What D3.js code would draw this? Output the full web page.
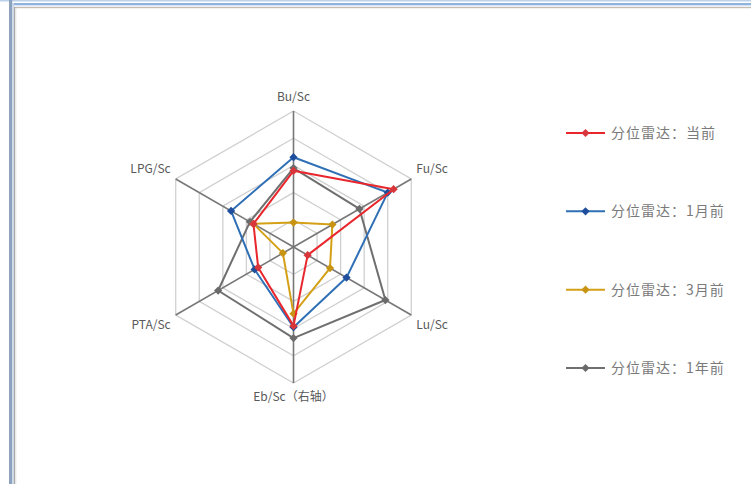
<!DOCTYPE html>
<html>
<head>
<meta charset="utf-8">
<script src="https://cdn.jsdelivr.net/npm/d3@7"></script>
<style>
  html, body { margin: 0; padding: 0; background: #fff; }
  svg { display: block; }
</style>
</head>
<body>
<svg id="chart" width="751" height="484"></svg>
<script>
const axes = ["Bu/Sc", "Fu/Sc", "Lu/Sc", "Eb/Sc（右轴）", "PTA/Sc", "LPG/Sc"];
const seriesNames = ["分位雷达：当前", "分位雷达：1月前", "分位雷达：3月前", "分位雷达：1年前"];
const seriesColors = ["#e8262b", "#2e6fb5", "#d4a017", "#6f6f6f"];
const markerColors = ["#d9363b", "#1f4e9c", "#c89412", "#6b6b6b"];
const valNow    = [56, 85, 12, 58, 30, 34];
const val1M     = [66, 80, 45, 59, 33, 53];
const val3M     = [18, 33, 31, 49, 9, 34];
const val1Y     = [58, 56, 78, 67, 64, 37];
const allValues = [valNow, val1M, val3M, val1Y];
const ringTicks = [20, 40, 60, 80, 100];

const svg = d3.select("#chart");

// frame
const frame = svg.append("g");
frame.append("rect").attr("x", 0).attr("y", 0).attr("width", 751).attr("height", 1.5).attr("fill", "#bcd2ea");
frame.append("rect").attr("x", 9).attr("y", 3).attr("width", 742).attr("height", 2).attr("fill", "#8fb3dc");
frame.append("rect").attr("x", 9).attr("y", 5).attr("width", 742).attr("height", 1.5).attr("fill", "#d6e3f2");
frame.append("rect").attr("x", 14).attr("y", 7).attr("width", 737).attr("height", 1.2).attr("fill", "#c8bcae");
frame.append("rect").attr("x", 9).attr("y", 0).attr("width", 3.2).attr("height", 484).attr("fill", "#8ca2bf");
frame.append("rect").attr("x", 12.2).attr("y", 3).attr("width", 1.8).attr("height", 481).attr("fill", "#cdd8e6");
frame.append("rect").attr("x", 14).attr("y", 7).attr("width", 1.2).attr("height", 477).attr("fill", "#a8a8a8");
frame.append("rect").attr("x", 15.2).attr("y", 8).attr("width", 1.2).attr("height", 476).attr("fill", "#e6e6e6");

const cx = 293.5, cy = 247, R = 136;
const rScale = d3.scaleLinear().domain([0, 100]).range([0, R]);
const angle = d3.scalePoint().domain(d3.range(axes.length)).range([0, 2 * Math.PI * (axes.length - 1) / axes.length]);

function pt(i, v) {
  const a = angle(i) - Math.PI / 2;
  return [cx + rScale(v) * Math.cos(a), cy + rScale(v) * Math.sin(a)];
}

const g = svg.append("g");
// rings
ringTicks.forEach(t => {
  const pts = axes.map((_, i) => pt(i, t));
  g.append("path")
    .attr("d", d3.line()(pts) + "Z")
    .attr("fill", "none")
    .attr("stroke", "#d0d0d0")
    .attr("stroke-width", 1.3);
});
// spokes
axes.forEach((_, i) => {
  const [x, y] = pt(i, 100);
  g.append("line").attr("x1", cx).attr("y1", cy).attr("x2", x).attr("y2", y)
    .attr("stroke", "#777").attr("stroke-width", 1.6);
});

// labels
const labelPos = [
  {dx: 0, dy: -10, anchor: "middle"},
  {dx: 5, dy: -6, anchor: "start"},
  {dx: 5, dy: 14, anchor: "start"},
  {dx: 0, dy: 18, anchor: "middle"},
  {dx: -5, dy: 14, anchor: "end"},
  {dx: -5, dy: -6, anchor: "end"}
];
axes.forEach((name, i) => {
  const [x, y] = pt(i, 100);
  g.append("text")
    .attr("x", x + labelPos[i].dx).attr("y", y + labelPos[i].dy)
    .attr("text-anchor", labelPos[i].anchor)
    .attr("font-family", "'Noto Sans CJK SC', 'Noto Sans', sans-serif")
    .attr("font-size", 12)
    .attr("fill", "#595959")
    .text(name);
});

// series (draw in reverse so 当前 on top)
const diamond = d3.symbol().type(d3.symbolSquare).size(34);
[3, 2, 1, 0].forEach(s => {
  const pts = allValues[s].map((v, i) => pt(i, v));
  g.append("path")
    .attr("d", d3.line()(pts) + "Z")
    .attr("fill", "none")
    .attr("stroke", seriesColors[s])
    .attr("stroke-width", 2)
    .attr("stroke-linejoin", "round");
  pts.forEach(p => {
    g.append("path").attr("d", diamond)
      .attr("transform", `translate(${p[0]},${p[1]}) rotate(45)`)
      .attr("fill", markerColors[s]);
  });
});

// legend
const legendY = d3.scalePoint().domain(seriesNames).range([133, 368]);
const lg = svg.append("g");
seriesNames.forEach((name, s) => {
  const y = legendY(name);
  lg.append("line").attr("x1", 566).attr("x2", 605).attr("y1", y).attr("y2", y)
    .attr("stroke", seriesColors[s]).attr("stroke-width", 2);
  lg.append("path").attr("d", diamond).attr("transform", `translate(585.5,${y}) rotate(45)`).attr("fill", markerColors[s]);
  lg.append("text").attr("x", 611).attr("y", y + 5)
    .attr("font-family", "'Noto Sans CJK SC', sans-serif")
    .attr("font-size", 14)
    .attr("letter-spacing", 1)
    .attr("fill", "#7a7a7a")
    .text(name);
});
</script>
</body>
</html>
